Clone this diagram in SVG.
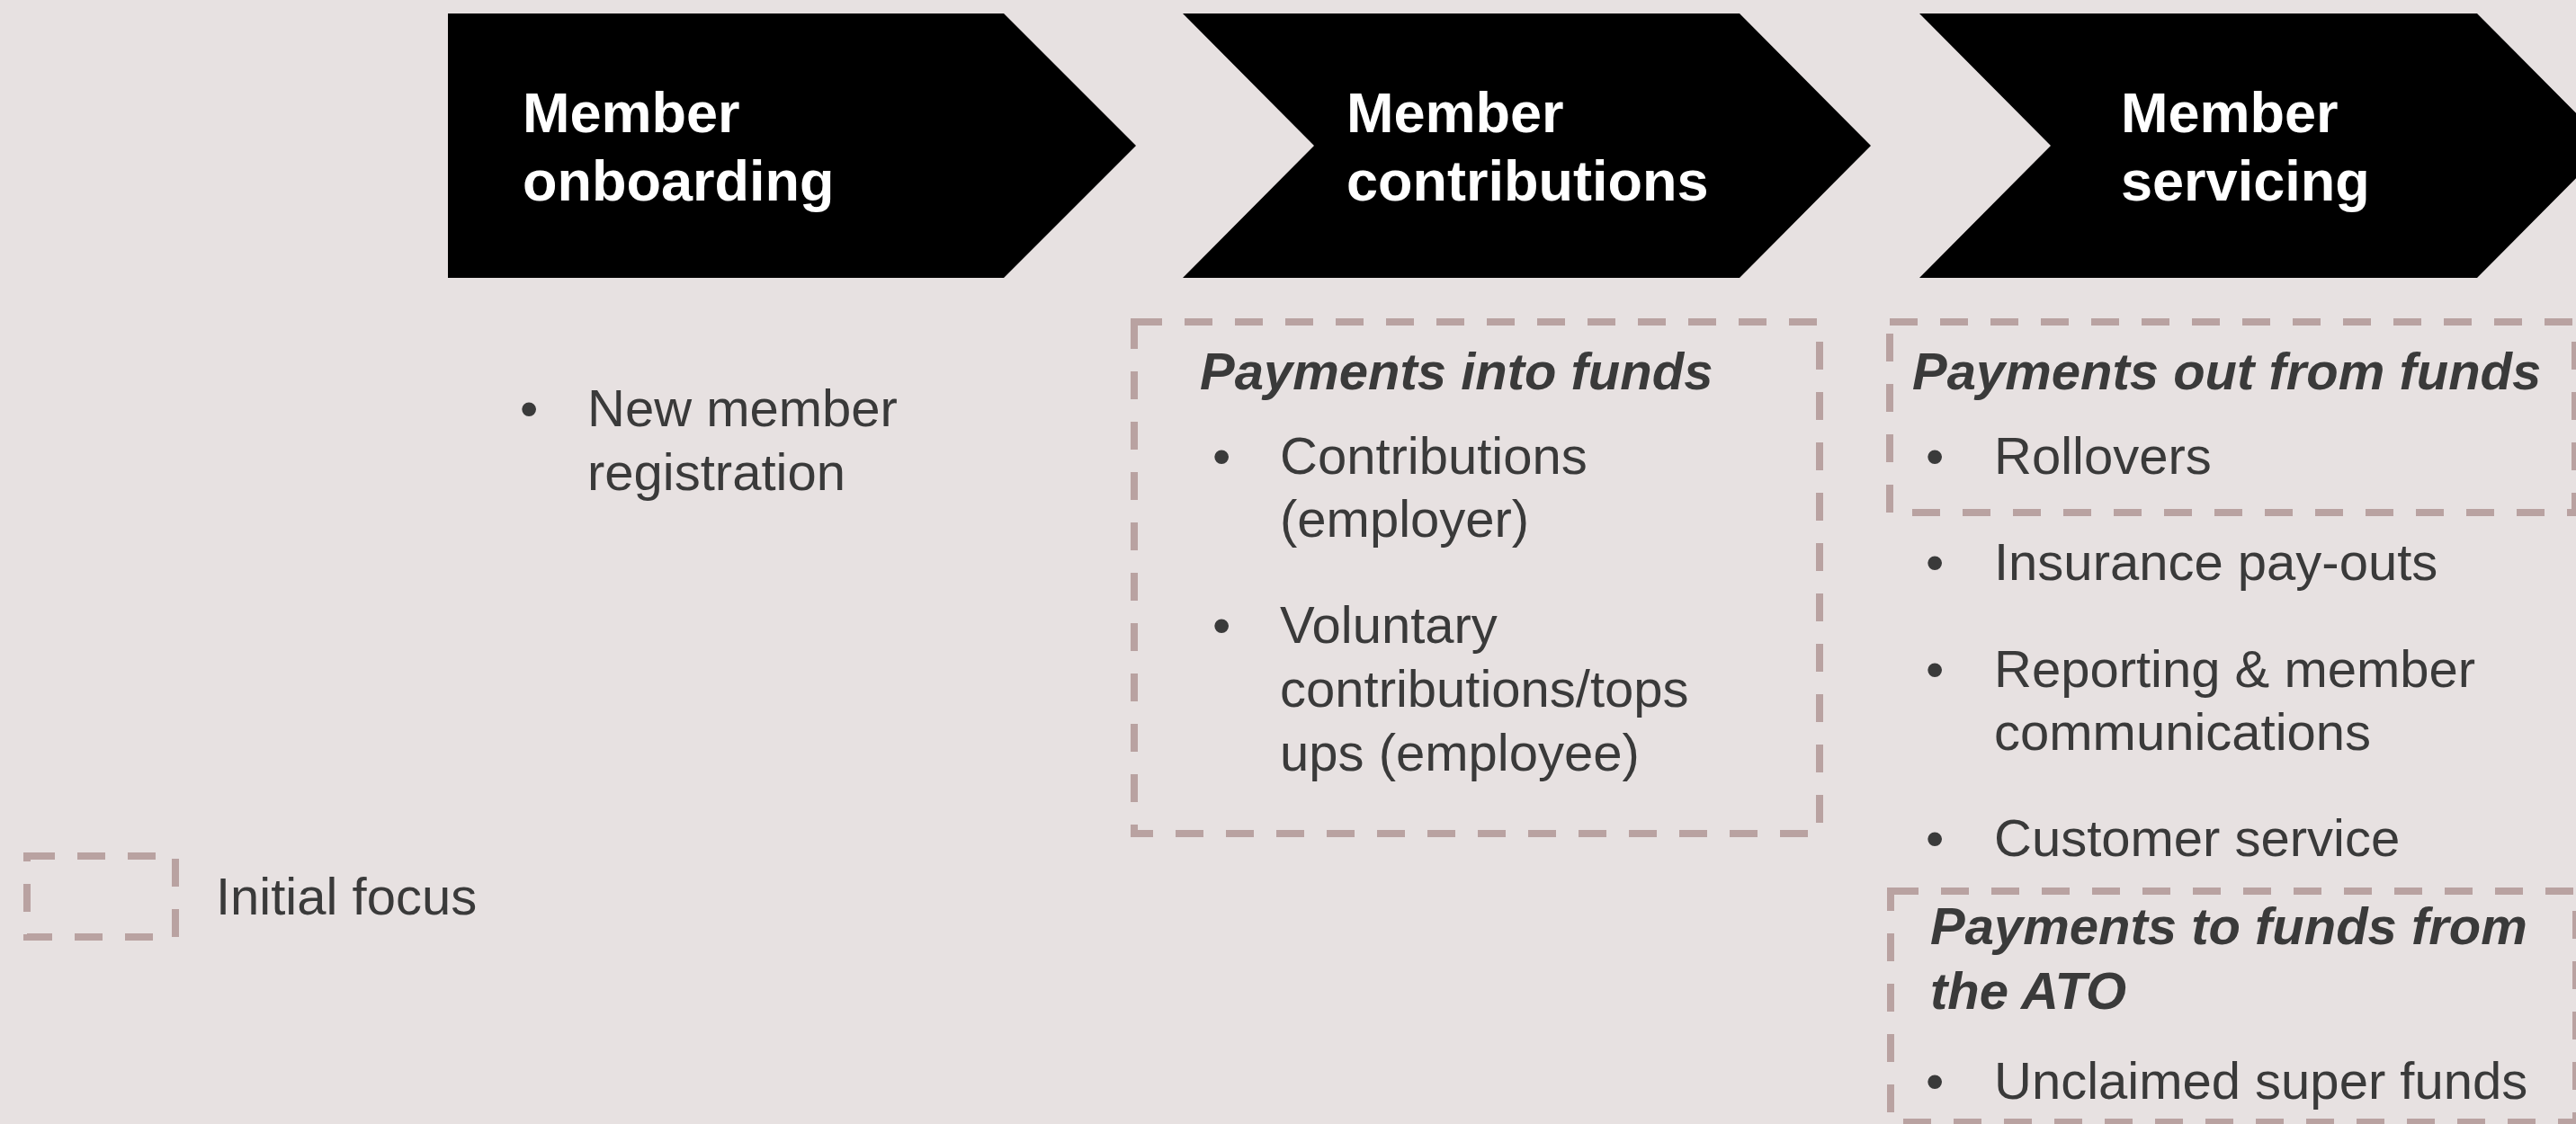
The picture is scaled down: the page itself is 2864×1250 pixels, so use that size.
<svg xmlns="http://www.w3.org/2000/svg" width="2864" height="1250" viewBox="0 0 2864 1250">
<style>
.bg{fill:#E7E1E1}
.chev{fill:#000000}
.hd{font-family:"Liberation Sans",Arial,sans-serif;font-weight:bold;font-size:63px;fill:#FFFFFF}
.tx{font-family:"Liberation Sans",Arial,sans-serif;font-size:58px;fill:#3A3A3A}
.ti{font-family:"Liberation Sans",Arial,sans-serif;font-size:58px;font-weight:bold;font-style:italic;fill:#3A3A3A}
.focus{fill:none;stroke:#B9A2A1;stroke-width:8;stroke-dasharray:31 25}
</style>
<rect class="bg" x="0" y="0" width="2864" height="1250"/>
<g id="stage-onboarding">
<polygon class="chev" points="498,15 1116,15 1263,162 1116,309 498,309"/>
<text class="hd" x="581" y="147">Member</text>
<text class="hd" x="581" y="223">onboarding</text>
</g>
<g id="stage-contributions">
<polygon class="chev" points="1315,15 1934,15 2080,162 1934,309 1315,309 1461,162"/>
<text class="hd" x="1497" y="147">Member</text>
<text class="hd" x="1497" y="223">contributions</text>
</g>
<g id="stage-servicing">
<polygon class="chev" points="2134,15 2754,15 2900,162 2754,309 2134,309 2280,162"/>
<text class="hd" x="2358" y="147">Member</text>
<text class="hd" x="2358" y="223">servicing</text>
</g>
<g id="onboarding-items">
<text class="tx" x="578" y="474">•</text>
<text class="tx" x="653" y="474">New member</text>
<text class="tx" x="653" y="545">registration</text>
</g>
<g id="box-payments-into">
<rect class="focus" x="1261" y="358" width="762" height="569"/>
<text class="ti" x="1334" y="433">Payments into funds</text>
<text class="tx" x="1348" y="527">•</text>
<text class="tx" x="1423" y="527">Contributions</text>
<text class="tx" x="1423" y="597">(employer)</text>
<text class="tx" x="1348" y="715">•</text>
<text class="tx" x="1423" y="715">Voluntary</text>
<text class="tx" x="1423" y="786">contributions/tops</text>
<text class="tx" x="1423" y="857">ups (employee)</text>
</g>
<g id="box-payments-out">
<rect class="focus" x="2101" y="358" width="762" height="212"/>
<text class="ti" x="2126" y="433">Payments out from funds</text>
<text class="tx" x="2141" y="527">•</text>
<text class="tx" x="2217" y="527">Rollovers</text>
</g>
<g id="servicing-items">
<text class="tx" x="2141" y="645">•</text>
<text class="tx" x="2217" y="645">Insurance pay-outs</text>
<text class="tx" x="2141" y="764">•</text>
<text class="tx" x="2217" y="764">Reporting &amp; member</text>
<text class="tx" x="2217" y="834">communications</text>
<text class="tx" x="2141" y="952">•</text>
<text class="tx" x="2217" y="952">Customer service</text>
</g>
<g id="box-payments-ato">
<rect class="focus" x="2102" y="991" width="762" height="257"/>
<text class="ti" x="2146" y="1050">Payments to funds from</text>
<text class="ti" x="2146" y="1122">the ATO</text>
<text class="tx" x="2141" y="1222">•</text>
<text class="tx" x="2217" y="1222">Unclaimed super funds</text>
</g>
<g id="legend">
<rect class="focus" x="30" y="952" width="165" height="90"/>
<text class="tx" x="240" y="1017">Initial focus</text>
</g>
<g id="connectors"></g>
</svg>
